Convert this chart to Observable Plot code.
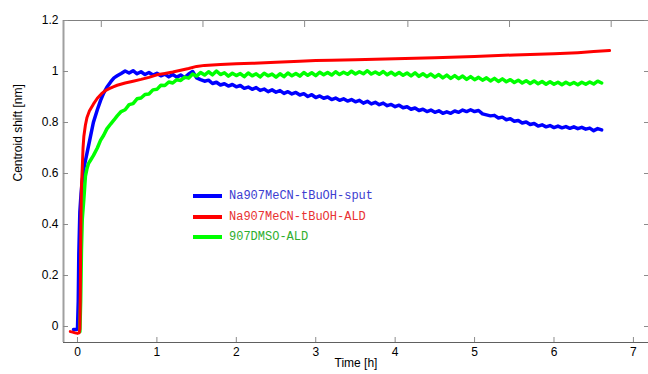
<!DOCTYPE html>
<html>
<head>
<meta charset="utf-8">
<script src="https://cdn.jsdelivr.net/npm/d3@7"></script>
<script src="https://cdn.jsdelivr.net/npm/@observablehq/plot@0.6"></script>
<style>
  html, body { margin: 0; padding: 0; background: #fff; }
  #wrap { position: relative; width: 648px; height: 374px; }
  #legend { position: absolute; left: 193px; top: 186px; font-family: "Liberation Mono", monospace; font-size: 12px; }
  #legend .row { display: flex; align-items: center; height: 20.5px; }
  #legend .sw { width: 29px; height: 4px; margin-right: 7px; }
</style>
</head>
<body>
<div id="wrap"><div id="legend"></div></div>
<script>
// ---- data ----
const seriesNames = ["Na907MeCN-tBuOH-sput", "Na907MeCN-tBuOH-ALD", "907DMSO-ALD"];
const seriesColors = ["#0000ff", "#ff0000", "#00ff00"];
const legendTextColors = ["#3c3cd0", "#e83232", "#2eae2e"];

const sputT = [-0.05,-0.02,0.0,0.01,0.017,0.03,0.045,0.06,0.08,0.1,0.12,0.16,0.2,0.25,0.29,0.33,0.37,0.42,0.46,
  0.50,0.55,0.60,0.65,0.70,0.75,0.80,0.85,0.90,0.95,1.00,1.05,1.10,1.15,1.20,1.25,1.30,1.35,1.40,1.45,1.50,1.55,1.60,1.65,1.70,1.75,1.80,1.85,1.90,1.95,
  2.00,2.05,2.10,2.15,2.20,2.25,2.30,2.35,2.40,2.45,2.50,2.55,2.60,2.65,2.70,2.75,2.80,2.85,2.90,2.95,
  3.00,3.05,3.10,3.15,3.20,3.25,3.30,3.35,3.40,3.45,3.50,3.55,3.60,3.65,3.70,3.75,3.80,3.85,3.90,3.95,
  4.00,4.05,4.10,4.15,4.20,4.25,4.30,4.35,4.40,4.45,4.50,4.55,4.60,4.65,4.70,4.75,4.80,4.85,4.90,4.95,
  5.00,5.05,5.10,5.15,5.20,5.25,5.30,5.35,5.40,5.45,5.50,5.55,5.60,5.65,5.70,5.75,5.80,5.85,5.90,5.95,
  6.00,6.05,6.10,6.15,6.20,6.25,6.30,6.35,6.40,6.45,6.50,6.55,6.60];
const sputY = [-0.012,-0.012,-0.01,0.1,0.285,0.45,0.52,0.57,0.62,0.65,0.68,0.74,0.80,0.85,0.886,0.915,0.938,0.96,0.975,
  0.983,0.992,1.002,0.994,1.003,0.991,0.999,0.988,0.996,0.986,0.993,0.983,0.990,0.979,0.988,0.978,0.986,0.976,0.990,1.000,0.975,0.968,0.962,0.966,0.953,0.958,0.947,0.952,0.943,0.949,
  0.940,0.945,0.934,0.939,0.930,0.937,0.926,0.931,0.921,0.928,0.919,0.925,0.914,0.921,0.912,0.918,0.908,0.913,0.902,0.909,
  0.898,0.904,0.895,0.900,0.890,0.896,0.887,0.893,0.884,0.890,0.881,0.887,0.876,0.883,0.873,0.879,0.870,0.876,0.866,0.871,
  0.862,0.868,0.858,0.862,0.852,0.857,0.847,0.852,0.843,0.849,0.840,0.846,0.836,0.842,0.836,0.845,0.840,0.849,0.843,0.850,
  0.843,0.847,0.834,0.830,0.826,0.828,0.818,0.821,0.811,0.815,0.805,0.808,0.798,0.802,0.792,0.796,0.786,0.791,0.783,0.788,
  0.780,0.786,0.779,0.784,0.777,0.783,0.776,0.781,0.774,0.778,0.768,0.776,0.771];

const aldT = [-0.09,-0.06,-0.03,0.0,0.02,0.03,0.035,0.04,0.045,0.05,0.06,0.07,0.08,0.1,0.12,0.15,0.2,0.25,0.3,0.35,0.4,0.45,0.5,0.6,0.7,0.8,0.9,1.0,1.1,1.2,1.3,1.4,1.5,1.6,1.8,2.0,2.2,2.5,2.8,3.0,3.2,3.5,4.0,4.5,5.0,5.5,6.0,6.3,6.5,6.7];
const aldY = [-0.02,-0.022,-0.025,-0.027,-0.025,-0.01,0.1,0.3,0.45,0.55,0.62,0.70,0.745,0.79,0.82,0.845,0.872,0.895,0.912,0.925,0.933,0.94,0.946,0.955,0.962,0.969,0.977,0.987,0.992,0.998,1.005,1.012,1.02,1.024,1.027,1.03,1.032,1.036,1.04,1.043,1.044,1.046,1.05,1.054,1.059,1.065,1.07,1.074,1.078,1.082];

const dmsoT = [0.03,0.04,0.05,0.06,0.08,0.1,0.12,0.14,0.17,0.2,0.25,0.29,0.33,0.37,0.42,0.46,
  0.50,0.55,0.60,0.65,0.70,0.75,0.80,0.85,0.90,0.95,1.00,1.05,1.10,1.15,1.20,1.25,1.30,1.35,1.40,1.45,1.50,1.55,1.60,1.65,1.70,1.75,1.80,1.85,1.90,1.95,
  2.00,2.05,2.10,2.15,2.20,2.25,2.30,2.35,2.40,2.45,2.50,2.55,2.60,2.65,2.70,2.75,2.80,2.85,2.90,2.95,
  3.00,3.05,3.10,3.15,3.20,3.25,3.30,3.35,3.40,3.45,3.50,3.55,3.60,3.65,3.70,3.75,3.80,3.85,3.90,3.95,
  4.00,4.05,4.10,4.15,4.20,4.25,4.30,4.35,4.40,4.45,4.50,4.55,4.60,4.65,4.70,4.75,4.80,4.85,4.90,4.95,
  5.00,5.05,5.10,5.15,5.20,5.25,5.30,5.35,5.40,5.45,5.50,5.55,5.60,5.65,5.70,5.75,5.80,5.85,5.90,5.95,
  6.00,6.05,6.10,6.15,6.20,6.25,6.30,6.35,6.40,6.45,6.50,6.55,6.60];
const dmsoY = [-0.02,0.1,0.3,0.42,0.5,0.59,0.62,0.64,0.655,0.67,0.7,0.73,0.75,0.775,0.795,0.81,
  0.826,0.843,0.850,0.870,0.874,0.893,0.896,0.910,0.912,0.928,0.930,0.946,0.945,0.959,0.955,0.968,0.965,0.978,0.974,0.990,0.982,0.996,0.986,0.999,0.987,1.002,0.988,0.995,0.982,0.993,
  0.984,0.992,0.980,0.994,0.983,0.991,0.979,0.993,0.983,0.990,0.978,0.991,0.980,0.994,0.983,0.992,0.982,0.996,0.985,0.995,
  0.984,0.997,0.987,0.996,0.986,0.999,0.988,0.997,0.989,1.001,0.990,0.999,0.991,1.003,0.990,0.998,0.989,1.000,0.987,0.997,
  0.986,0.996,0.985,0.994,0.983,0.995,0.981,0.991,0.980,0.990,0.978,0.988,0.975,0.986,0.973,0.984,0.972,0.982,0.969,0.980,
  0.968,0.977,0.966,0.975,0.963,0.973,0.961,0.971,0.960,0.968,0.957,0.966,0.955,0.964,0.953,0.963,0.952,0.961,0.950,0.960,
  0.950,0.958,0.948,0.958,0.949,0.957,0.948,0.958,0.950,0.959,0.951,0.962,0.955];

const xTickValues = [0,1,2,3,4,5,6,7];
const yTickValues = [0,0.2,0.4,0.6,0.8,1,1.2];
const topTickValues = [0.30,1.58,2.86,4.16,5.44,6.72];
const xDomain = [-0.176, 7.19];
const yDomain = [-0.0627, 1.2];

// ---- build ----
const toRows = (ts, ys, s) => ts.map((t, i) => ({t, y: ys[i], s}));
const rows = [
  ...toRows(sputT, sputY, seriesNames[0]),
  ...toRows(aldT, aldY, seriesNames[1]),
  ...toRows(dmsoT, dmsoY, seriesNames[2])
];

const W = 648, H = 374, mL = 63, mR = 0, mT = 20, mB = 32;
const innerW = W - mL - mR, innerH = H - mT - mB;
const axisGray = "#8c8c8c";

const chart = Plot.plot({
  width: W, height: H,
  marginLeft: mL, marginRight: mR, marginTop: mT, marginBottom: mB,
  style: {fontFamily: "'Liberation Sans', Arial, sans-serif", fontSize: "12px", color: "#000", background: "#fff"},
  x: {domain: xDomain},
  y: {domain: yDomain},
  color: {domain: seriesNames, range: seriesColors},
  marks: [
    Plot.ruleX([xDomain[0]], {stroke: "#a0a0a0", strokeWidth: 2}),
    Plot.ruleY([yDomain[1]], {stroke: "#808080", strokeWidth: 1}),
    Plot.ruleY([yDomain[0]], {stroke: "#606060", strokeWidth: 1.2}),
    Plot.tickX(xTickValues, {x: d => d, insetTop: innerH - 5, stroke: axisGray}),
    Plot.tickX(topTickValues, {x: d => d, insetBottom: innerH - 7, stroke: axisGray}),
    Plot.tickY(yTickValues, {y: d => d, insetRight: innerW - 5, stroke: axisGray}),
    Plot.tickY(yTickValues, {y: d => d, insetLeft: innerW - 4, stroke: axisGray}),
    Plot.axisX(xTickValues, {tickSize: 0, tickPadding: 5, label: null, fill: "#000"}),
    Plot.axisY(yTickValues, {tickSize: 0, tickPadding: 5, label: null, tickFormat: d => String(d), fill: "#000"}),
    Plot.line(rows.filter(d => d.s === seriesNames[0]), {x: "t", y: "y", stroke: "s", strokeWidth: 3.5, curve: "linear"}),
    Plot.line(rows.filter(d => d.s === seriesNames[2]), {x: "t", y: "y", stroke: "s", strokeWidth: 3.5, curve: "linear"}),
    Plot.line(rows.filter(d => d.s === seriesNames[1]), {x: "t", y: "y", stroke: "s", strokeWidth: 3, curve: "linear"}),
    Plot.text(["Time [h]"], {frameAnchor: "bottom", dy: 24, fontSize: 12, fill: "#000"}),
    Plot.text(["Centroid shift [nm]"], {frameAnchor: "left", dx: -45, rotate: -90, fontSize: 12, fill: "#000"})
  ]
});
document.getElementById("wrap").prepend(chart);

const legend = document.getElementById("legend");
seriesNames.forEach((name, i) => {
  const row = document.createElement("div");
  row.className = "row";
  const sw = document.createElement("span");
  sw.className = "sw";
  sw.style.background = seriesColors[i];
  const tx = document.createElement("span");
  tx.textContent = name;
  tx.style.color = legendTextColors[i];
  row.append(sw, tx);
  legend.append(row);
});
</script>
</body>
</html>
